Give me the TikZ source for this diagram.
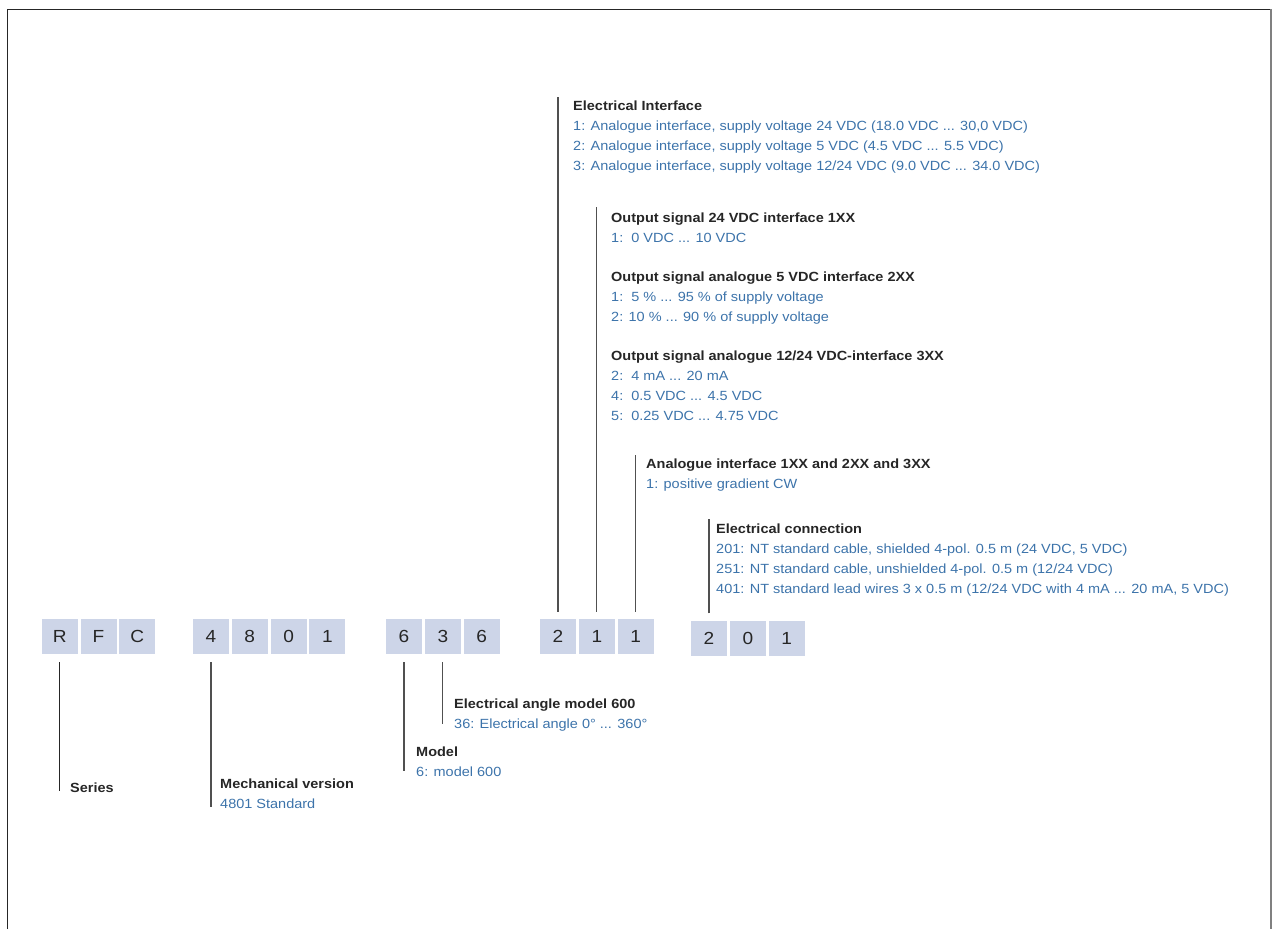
\documentclass[tikz,border=0pt]{standalone}
\usepackage{fontspec}
\setmainfont{Liberation Sans}[FakeStretch=1.09]
\usetikzlibrary{positioning}

\definecolor{boxblue}{RGB}{205,213,232}
\definecolor{codeblue}{RGB}{60,115,170}
\definecolor{headgray}{RGB}{38,38,38}
\definecolor{leadgray}{RGB}{80,80,80}
\newcommand{\cd}[1]{\textcolor{codeblue}{#1}}

\begin{document}
\begin{tikzpicture}[x=1pt, y=-1pt,
  digit/.style={fill=boxblue, minimum width=36pt, minimum height=35pt, inner sep=0pt,
    text=headgray, font=\fontsize{17.5}{20}\selectfont},
  note/.style={anchor=north west, inner sep=0pt, align=left, text=headgray,
    font=\fontsize{13.3}{20}\selectfont},
  lead/.style={draw=leadgray, line width=1.1pt}]

\def\gap{2.4pt}
\def\yc{636.5}

\useasboundingbox (0,0) rectangle (1274,929);

% frame
\draw[headgray, line width=1.3pt] (7.5,929) -- (7.5,9.3) -- (1270.5,9.3);
\draw[gray, line width=2pt] (1270.5,9.3) -- (1270.5,929);

% type code
\node[digit] (r) at (59.7,\yc) {R};
\node[digit, right=\gap of r] (f) {F};
\node[digit, right=\gap of f] (c) {C};

\node[digit] (n4) at (211,\yc) {4};
\node[digit, right=\gap of n4] (n8) {8};
\node[digit, right=\gap of n8] (n0) {0};
\node[digit, right=\gap of n0] (n1) {1};

\node[digit] (mod) at (404,\yc) {6};
\node[digit, right=\gap of mod] (ang1) {3};
\node[digit, right=\gap of ang1] (ang2) {6};

\node[digit] (ei) at (558,\yc) {2};
\node[digit, right=\gap of ei] (os) {1};
\node[digit, right=\gap of os] (gr) {1};

\node[digit] (c1) at (709,\yc+1.5) {2};
\node[digit, right=\gap of c1] (c2) {0};
\node[digit, right=\gap of c2] (c3) {1};

% texts above
\node[note] (tEI) at (573,100.5) {\textbf{Electrical Interface}\\
  \cd{1: Analogue interface, supply voltage 24 VDC (18.0 VDC ... 30,0 VDC)}\\
  \cd{2: Analogue interface, supply voltage 5 VDC (4.5 VDC ... 5.5 VDC)}\\
  \cd{3: Analogue interface, supply voltage 12/24 VDC (9.0 VDC ... 34.0 VDC)}};

\node[note] (tOut) at (611,212.5) {\textbf{Output signal 24 VDC interface 1XX}\\
  \cd{1:\ \ 0 VDC ... 10 VDC}\\[19pt]
  \textbf{Output signal analogue 5 VDC interface 2XX}\\
  \cd{1:\ \ 5 \% ... 95 \% of supply voltage}\\
  \cd{2: 10 \% ... 90 \% of supply voltage}\\[19pt]
  \textbf{Output signal analogue 12/24 VDC-interface 3XX}\\
  \cd{2:\ \ 4 mA ... 20 mA}\\
  \cd{4:\ \ 0.5 VDC ... 4.5 VDC}\\
  \cd{5:\ \ 0.25 VDC ... 4.75 VDC}};

\node[note] (tGrad) at (646,458.5) {\textbf{Analogue interface 1XX and 2XX and 3XX}\\
  \cd{1: positive gradient CW}};

\node[note] (tConn) at (716,523.5) {\textbf{Electrical connection}\\
  \cd{201: NT standard cable, shielded 4-pol. 0.5 m (24 VDC, 5 VDC)}\\
  \cd{251: NT standard cable, unshielded 4-pol. 0.5 m (12/24 VDC)}\\
  \cd{401: NT standard lead wires 3 x 0.5 m (12/24 VDC with 4 mA ... 20 mA, 5 VDC)}};

% texts below
\node[note] (tAngle) at (454,698.5) {\textbf{Electrical angle model 600}\\
  \cd{36: Electrical angle 0° ... 360°}};
\node[note] (tModel) at (416,746.5) {\textbf{Model}\\
  \cd{6: model 600}};
\node[note] (tMech) at (220,778.5) {\textbf{Mechanical version}\\
  \cd{4801 Standard}};
\node[note] (tSeries) at (70,782.5) {\textbf{Series}};

% leads
\draw[lead] ([yshift=7pt]ei.north) -- ([yshift=3.5pt]ei.north |- tEI.north);
\draw[lead] ([yshift=7pt]os.north) -- ([yshift=5.5pt]os.north |- tOut.north);
\draw[lead] ([yshift=7pt]gr.north) -- ([yshift=3.5pt]gr.north |- tGrad.north);
\draw[lead] ([yshift=7pt]c1.north) -- ([yshift=4.5pt]c1.north |- tConn.north);

\draw[lead, draw=headgray] ([yshift=-8pt]r.south) -- ([yshift=1.5pt]r.south |- tSeries.south);
\draw[lead] ([yshift=-8pt]n4.south) -- ([yshift=1.5pt]n4.south |- tMech.south);
\draw[lead] ([yshift=-8pt]mod.south) -- ([yshift=5.5pt]mod.south |- tModel.south);
\draw[lead] ([yshift=-8pt]ang1.south) -- ([yshift=7.5pt]ang1.south |- tAngle.south);

\end{tikzpicture}
\end{document}
